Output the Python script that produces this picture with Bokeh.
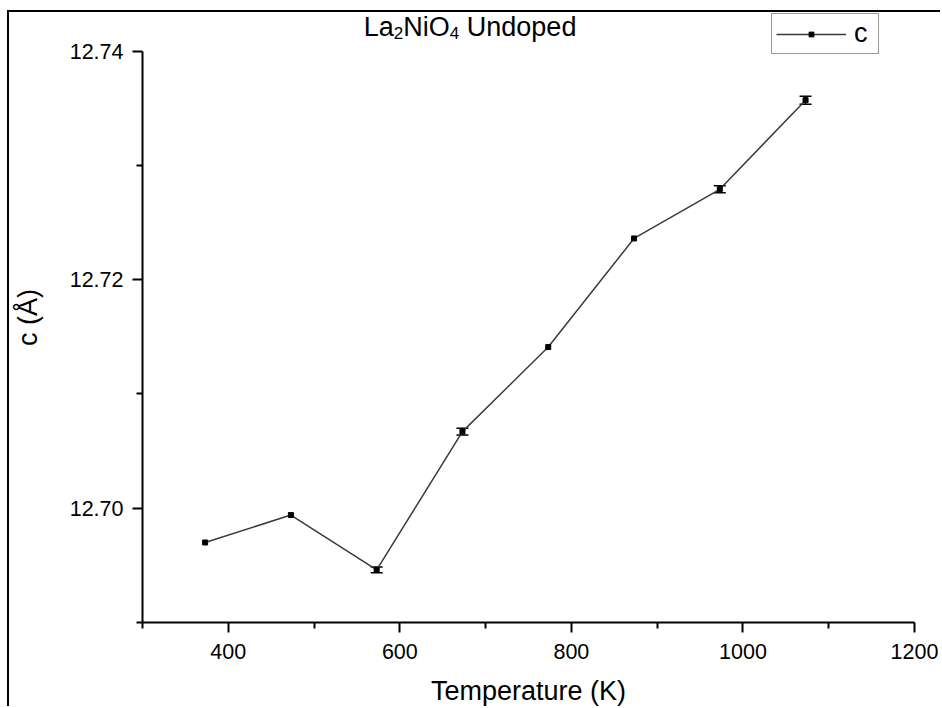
from bokeh.plotting import figure
from bokeh.models import (ColumnDataSource, Whisker, TeeHead, FixedTicker,
                          PrintfTickFormatter, Legend, LegendItem, Label)
from bokeh.embed import file_html
from bokeh.resources import INLINE

# ---- data ----
temperature = [373, 473, 573, 673, 773, 873, 973, 1073]
c_value = [12.6970, 12.6994, 12.6946, 12.7067, 12.7141, 12.7236, 12.7279, 12.7357]
c_error = [0.0, 0.0, 0.00025, 0.0003, 0.0, 0.0, 0.0003, 0.00035]

x_major = [400, 600, 800, 1000, 1200]
x_minor = [300, 500, 700, 900, 1100]
y_major = [12.70, 12.72, 12.74]
y_minor = [12.69, 12.71, 12.73]

title_parts = ["La", "2", "NiO", "4", "Undoped"]
x_label = "Temperature (K)"
y_label = "c (Å)"
series_name = "c"

FONT = "Liberation Sans"

Y0, Y1 = 12.69, 12.74
CANVAS_W = 933
CANVAS_H = 696
BOTTOM = 86
FRAME_H = CANVAS_H - BOTTOM   # frame height in px
AXIS_H = 571.5                # px spanned by the axis from Y0 to Y1
y_top = Y0 + (Y1 - Y0) * FRAME_H / AXIS_H   # headroom for title and legend

p = figure(width=CANVAS_W, height=CANVAS_H, x_range=(300, 1200), y_range=(Y0, y_top),
           output_backend="svg", toolbar_location=None,
           min_border_left=131, min_border_right=28, min_border_top=0,
           min_border_bottom=BOTTOM)
p.margin = (10, 0, 0, 7)
p.styles = {"border-left": "2px solid black", "border-top": "2px solid black"}
p.xgrid.visible = False
p.ygrid.visible = False
p.outline_line_color = None
p.background_fill_color = "white"
p.border_fill_color = "white"

src = ColumnDataSource(dict(x=temperature, y=c_value))
line_r = p.line("x", "y", source=src, line_color="#3a3a3a", line_width=1.5)
pts_r = p.scatter("x", "y", source=src, marker="square", size=5,
                  fill_color="black", line_color="black")

idx = [i for i, e in enumerate(c_error) if e > 0]
err_src = ColumnDataSource(dict(
    x=[temperature[i] for i in idx],
    upper=[c_value[i] + c_error[i] for i in idx],
    lower=[c_value[i] - c_error[i] for i in idx]))
whisk = Whisker(source=err_src, base="x", upper="upper", lower="lower",
                line_color="black", line_width=1.2,
                upper_head=TeeHead(size=12, line_color="black", line_width=1.5),
                lower_head=TeeHead(size=12, line_color="black", line_width=1.5))
p.add_layout(whisk)

for ax in (p.xaxis[0], p.yaxis[0]):
    ax.axis_line_width = 2
    ax.axis_line_color = "black"
    ax.major_tick_in = 0
    ax.major_tick_out = 10
    ax.minor_tick_in = 0
    ax.minor_tick_out = 6
    ax.major_tick_line_width = 2
    ax.minor_tick_line_width = 2
    ax.major_tick_line_color = "black"
    ax.minor_tick_line_color = "black"
    ax.major_label_text_font = FONT
    ax.major_label_text_font_size = "21.5px"
    ax.major_label_text_color = "black"
    ax.axis_label_text_font = FONT
    ax.axis_label_text_font_size = "27px"
    ax.axis_label_text_font_style = "normal"
    ax.axis_label_text_color = "black"

p.xaxis.ticker = FixedTicker(ticks=x_major, minor_ticks=x_minor)
p.yaxis.ticker = FixedTicker(ticks=y_major, minor_ticks=y_minor)
p.yaxis.bounds = (Y0, Y1)
p.yaxis.formatter = PrintfTickFormatter(format="%.2f")
p.xaxis.axis_label = x_label
p.yaxis.axis_label = y_label
p.xaxis.major_label_standoff = 11
p.xaxis.axis_label_standoff = 14
p.yaxis.major_label_standoff = 9
p.yaxis.axis_label_standoff = 24

legend = Legend(items=[LegendItem(label=series_name, renderers=[line_r, pts_r])],
                location=(629, 568), orientation="vertical",
                border_line_color="#333333", border_line_width=1,
                background_fill_color="white", background_fill_alpha=1,
                padding=4, margin=0, spacing=0, glyph_width=70, glyph_height=12,
                label_standoff=8, label_text_font=FONT,
                label_text_font_size="27px", label_text_color="black")
p.add_layout(legend)

# title composed of normal text and subscripts
big, small = 27, 17
offsets = [0, 30, 39.5, 86, 103]
for part, off in zip(title_parts, offsets):
    sub = part.isdigit()
    p.add_layout(Label(x=558, y=12.74166, x_offset=off, y_offset=-1 if sub else 5,
                       text=part, text_font=FONT,
                       text_font_size=f"{small if sub else big}px",
                       text_color="black", text_baseline="alphabetic",
                       text_align="left"))

open("out.html", "w").write(file_html(p, INLINE))
